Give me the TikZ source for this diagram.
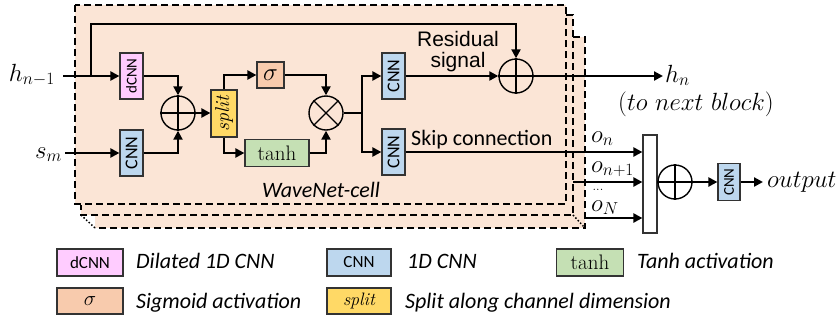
\documentclass[tikz,border=0pt]{standalone}
\usepackage{fontspec}
\usepackage{graphicx}
\setsansfont{Carlito}
\newfontfamily\arialfont{Liberation Sans}
\usetikzlibrary{arrows.meta}

\definecolor{cellbg}{HTML}{FBE5D6}
\definecolor{dcnnfill}{HTML}{FFCCFF}
\definecolor{cnnfill}{HTML}{BDD7EE}
\definecolor{sigfill}{HTML}{F8CBAD}
\definecolor{tanhfill}{HTML}{C5E0B4}
\definecolor{splitfill}{HTML}{FFD966}

\newcommand\sz[1]{\fontsize{#1}{#1}\selectfont}

\begin{document}
\begin{tikzpicture}[x=1pt,y=-1pt,
  box/.style={draw=black!80, line width=1.2pt, inner sep=0pt},
  vbox/.style={box, minimum width=23pt, minimum height=46pt},
  wire/.style={line width=2.2pt},
  arr/.style={wire, -{Triangle[length=9pt,width=9pt]}},
  op/.style={circle, draw=black, line width=1.4pt, minimum size=34pt, inner sep=0pt},
  cellborder/.style={line width=2pt, dash pattern=on 7pt off 4pt},
  depth/.style={line width=1.5pt, dotted},
  lab/.style={font=\sz{25}},
  legtxt/.style={anchor=base west, inner sep=0pt, font=\sffamily\itshape\sz{22}},
  cnntxt/.style={font=\sffamily\sz{18}}
]
\useasboundingbox (0,0) rectangle (840,322);

% stacked WaveNet cells (back to front)
\fill[cellbg] (95,37) rectangle (585,228);
\fill[cellbg] (81,15) rectangle (573,215);
\draw[cellborder] (573,37) -- (585,37) -- (585,228) -- (95,228);
\draw[cellborder] (566,15) -- (573,15) -- (573,215) -- (81,215) -- (81,205);
\draw[depth] (81,215) -- (95,228);
\draw[depth] (573,215) -- (585,228);
\draw[cellborder, fill=cellbg] (75,5) rectangle (566,204);

% blocks of the cell
\node[vbox, fill=dcnnfill] (dcnn) at (131.5,76) {\rotatebox{90}{\sffamily\sz{15}dCNN}};
\node[vbox, fill=cnnfill] (cnnS) at (131.5,153) {\rotatebox{90}{\sffamily\sz{18}CNN}};
\node[op] (sum1) at (178,113) {};
\node[box, fill=splitfill, minimum width=26pt, minimum height=47pt] (split) at (224,113.5)
  {\rotatebox{90}{\rmfamily\itshape\sz{20}split}};
\node[box, fill=sigfill, minimum width=27pt, minimum height=26pt] (sig) at (270.5,75) {\sz{23}$\sigma$};
\node[box, fill=tanhfill, minimum width=64pt, minimum height=27pt] (tanh) at (277,153) {\sz{21}tanh};
\node[op] (mul) at (326,113) {};
\node[vbox, fill=cnnfill] (cnnR) at (393.5,76) {\rotatebox{90}{\sffamily\sz{18}CNN}};
\node[vbox, fill=cnnfill] (cnnK) at (393.5,152) {\rotatebox{90}{\sffamily\sz{18}CNN}};
\node[op] (sum2) at (516,76) {};

% output stage
\node[box, fill=white, minimum width=14pt, minimum height=98pt] (bar) at (650,184) {};
\node[op] (sum3) at (675,182) {};
\node[box, fill=cnnfill, minimum width=22pt, minimum height=37pt] (cnnO) at (729,182)
  {\rotatebox{90}{\sffamily\sz{15}CNN}};

% operator symbols
\draw[line width=1.4pt] (sum1.north) -- (sum1.south) (sum1.west) -- (sum1.east);
\draw[line width=1.4pt] (sum2.north) -- (sum2.south) (sum2.west) -- (sum2.east);
\draw[line width=1.4pt] (sum3.north) -- (sum3.south) (sum3.west) -- (sum3.east);
\draw[line width=1.4pt] (mul.north west) -- (mul.south east) (mul.north east) -- (mul.south west);

% inputs
\node[lab, anchor=base east, inner sep=0pt] (hprev) at (55,81) {$h_{n-1}$};
\node[lab, anchor=base east, inner sep=0pt] (sm) at (62,158) {$s_m$};
\coordinate (hin) at (63,76);
\coordinate (sin) at (65,153);
\coordinate (hbr) at (91,76);
\coordinate (htop) at (91,24);

% connectors inside the cell
\draw[arr] (hin) -- (dcnn.west);
\draw[arr] (sin) -- (cnnS.west);
\draw[arr] (hbr) -- (htop) -| (sum2.north);
\draw[arr] (dcnn.east) -| (sum1.north);
\draw[arr] (cnnS.east) -| (sum1.south);
\draw[arr] (sum1.east) -- (sum1.east -| split.west);
\draw[arr] (split.north) |- (sig.west);
\draw[arr] (split.south) |- (tanh.west);
\draw[arr] (sig.east) -| (mul.north);
\draw[arr] (tanh.east) -| (mul.south);
\coordinate (mbr) at (362,113);
\draw[wire] (mul.east) -- (mbr);
\draw[arr] (mbr) |- (cnnR.west);
\draw[arr] (mbr) |- (cnnK.west);
\draw[arr] (cnnR.east) -- (sum2.west);

% residual output
\coordinate (hout) at (663,76);
\draw[arr] (sum2.east) -- (hout);
\node[lab, anchor=base west, inner sep=0pt] (hn) at (665,82) {$h_n$};
\node[lab] (nextblk) at (696,104) {$(to\ next\ block)$};

% skip connections
\coordinate (s2) at (573,182);
\coordinate (s3) at (585,218);
\draw[arr] (cnnK.east) -- (cnnK.east -| bar.west);
\draw[arr] (s2) -- (s2 -| bar.west);
\draw[arr] (s3) -- (s3 -| bar.west);
\node[lab, anchor=base west, inner sep=0pt] (on) at (591,142) {$o_n$};
\node[lab, anchor=base west, inner sep=0pt] (on1) at (591,172) {$o_{n+1}$};
\node[font=\sz{13}, inner sep=0pt] (odots) at (598,190) {...};
\node[lab, anchor=base west, inner sep=0pt] (oN) at (591,211) {$o_N$};

\coordinate (outc) at (763,182);
\draw[arr] (sum3.east) -- (cnnO.west);
\draw[arr] (cnnO.east) -- (outc);
\node[lab, anchor=base west, inner sep=0pt] (outtxt) at (767,187) {$output$};

% labels
\node[font=\arialfont\sz{21}, align=center] (restxt) at (458,52) {Residual\\signal};
\node[anchor=base west, inner sep=0pt, font=\sffamily\sz{22}] (skiptxt) at (411,145) {Skip connection};
\node[font=\sffamily\itshape\sz{22}] (celltxt) at (321,190) {WaveNet-cell};

% legend
\node[box, fill=dcnnfill, minimum width=66pt, minimum height=27pt] (lg1) at (90,262.5) {\sffamily\sz{17}dCNN};
\node[legtxt] (lt1) at (136,268) {Dilated 1D CNN};
\node[box, fill=cnnfill, minimum width=64pt, minimum height=27pt] (lg2) at (359,262.5) {\sffamily\sz{17}CNN};
\node[legtxt] (lt2) at (407,268) {1D CNN};
\node[box, fill=tanhfill, minimum width=67pt, minimum height=27pt] (lg3) at (590,262.5) {\sz{21}tanh};
\node[legtxt] (lt3) at (637,268) {Tanh activation};
\node[box, fill=sigfill, minimum width=66pt, minimum height=26pt] (lg4) at (90,301) {\sz{22}$\sigma$};
\node[legtxt] (lt4) at (136,308) {Sigmoid activation};
\node[box, fill=splitfill, minimum width=64pt, minimum height=26pt] (lg5) at (359,301) {\rmfamily\itshape\sz{18}split};
\node[legtxt] (lt5) at (405,308) {Split along channel dimension};
\end{tikzpicture}
\end{document}
